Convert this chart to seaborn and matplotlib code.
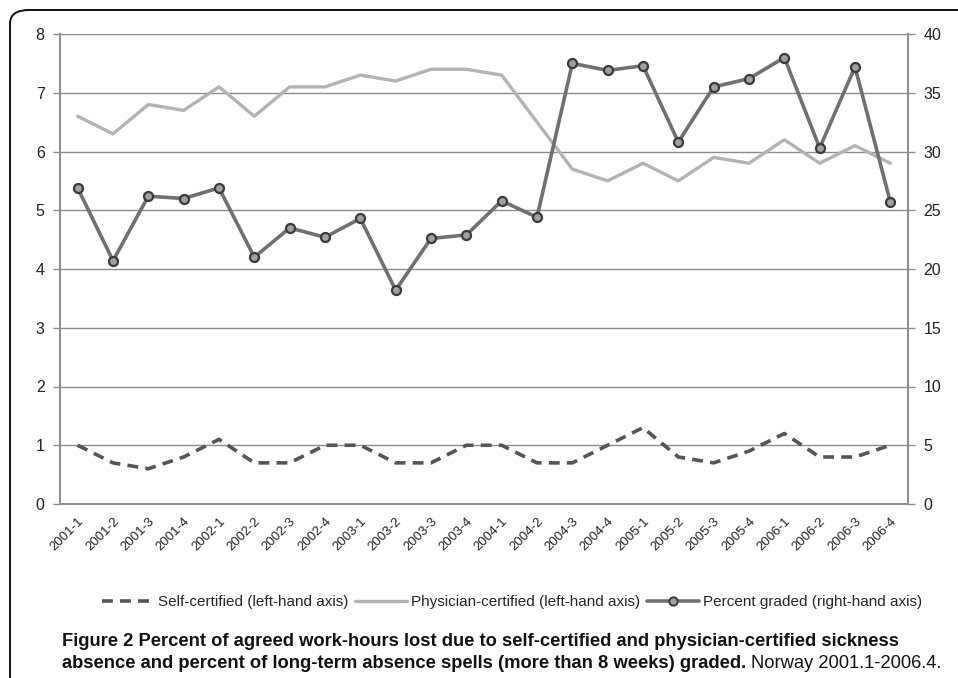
import numpy as np
import pandas as pd
import matplotlib
matplotlib.use("Agg")
import matplotlib.pyplot as plt
import seaborn as sns
from matplotlib.patches import FancyBboxPatch
from matplotlib.lines import Line2D

quarters = [f"{y}-{q}" for y in range(2001, 2007) for q in range(1, 5)]
self_cert = [1.0, 0.7, 0.6, 0.8, 1.1, 0.7, 0.7, 1.0, 1.0, 0.7, 0.7, 1.0,
             1.0, 0.7, 0.7, 1.0, 1.3, 0.8, 0.7, 0.9, 1.2, 0.8, 0.8, 1.0]
physician = [6.6, 6.3, 6.8, 6.7, 7.1, 6.6, 7.1, 7.1, 7.3, 7.2, 7.4, 7.4,
             7.3, 6.5, 5.7, 5.5, 5.8, 5.5, 5.9, 5.8, 6.2, 5.8, 6.1, 5.8]
graded = [26.9, 20.7, 26.2, 26.0, 26.9, 21.0, 23.5, 22.7, 24.3, 18.2, 22.6, 22.9,
          25.8, 24.4, 37.5, 36.9, 37.3, 30.8, 35.5, 36.2, 38.0, 30.3, 37.2, 25.7]

df = pd.DataFrame({'Quarter': quarters, 'Self': self_cert,
                   'Physician': physician, 'Graded': graded})
df['pos'] = np.arange(len(df))

sns.set_style("white")
plt.rcParams['font.family'] = ['Liberation Sans', 'DejaVu Sans']

fig = plt.figure(figsize=(9.58, 6.78), dpi=100)
ax = fig.add_axes([60/958, 1-504/678, 848/958, 470/678])
ax2 = ax.twinx()

grid_c = '#8c8c8c'
c_self = '#555555'
c_phys = '#b3b3b3'
c_grad = '#707070'

sns.lineplot(x='pos', y='Physician', data=df, ax=ax, color=c_phys, linewidth=2.4, zorder=3)
sns.lineplot(x='pos', y='Self', data=df, ax=ax, color=c_self, linewidth=2.6,
             linestyle=(0, (3, 2)), zorder=3)
sns.lineplot(x='pos', y='Graded', data=df, ax=ax2, color=c_grad, linewidth=2.6,
             marker='o', markersize=6.5, markerfacecolor='#a0a0a0',
             markeredgecolor='#3a3a3a', markeredgewidth=1.6, zorder=4)

ax.set_ylim(0, 8)
ax2.set_ylim(0, 40)
ax.set_xlim(-0.5, 23.5)
ax.set_yticks(range(0, 9))
ax2.set_yticks(range(0, 41, 5))
ax.set_xlabel('')
ax.set_ylabel('')
ax2.set_ylabel('')
ax.grid(axis='y', color=grid_c, linewidth=1)
ax.set_axisbelow(True)

ax.set_xticks(df['pos'])
ax.set_xticklabels(quarters, rotation=45, ha='right', va='top',
                   rotation_mode='anchor', fontsize=9.5, color='#222222')
ax.set_xticks(np.arange(-0.5, 24, 1), minor=True)
ax.tick_params(axis='x', which='major', length=0, pad=8)
ax.tick_params(axis='x', which='minor', length=5, color=grid_c, width=1)
ax.tick_params(axis='y', length=5, color=grid_c, width=1, labelsize=11.5, pad=6,
               labelcolor='#222222', left=True)
ax2.tick_params(axis='y', length=5, color=grid_c, width=1, labelsize=11.5, pad=6,
                labelcolor='#222222', right=True)

for a in (ax, ax2):
    a.spines['top'].set_visible(False)
    for s in ('left', 'right', 'bottom'):
        a.spines[s].set_color(grid_c)
        a.spines[s].set_linewidth(1.3)

handles = [
    Line2D([], [], color=c_self, linewidth=2.6, linestyle=(0, (3, 2))),
    Line2D([], [], color=c_phys, linewidth=2.4),
    Line2D([], [], color=c_grad, linewidth=2.6, marker='o', markersize=6,
           markerfacecolor='#a0a0a0', markeredgecolor='#3a3a3a', markeredgewidth=1.4),
]
labels = ['Self-certified (left-hand axis)', 'Physician-certified (left-hand axis)',
          'Percent graded (right-hand axis)']
fig.legend(handles, labels, loc='center', bbox_to_anchor=(512/958, 1-602/678),
           ncol=3, frameon=False, fontsize=11, handlelength=3.4,
           handletextpad=0.3, columnspacing=0.4)

frame = FancyBboxPatch((10/958, -0.2), 1.2, 1-10/678+0.2,
                       boxstyle='round,pad=0,rounding_size=0.02',
                       transform=fig.transFigure, fill=False,
                       edgecolor='#111111', linewidth=1.4, clip_on=False)
fig.patches.append(frame)

cap_font = ['Liberation Sans Narrow', 'Liberation Sans', 'DejaVu Sans']
cap_size = 13.2
fig.text(62/958, 1-641/678, 'Figure 2 Percent of agreed work-hours lost due to self-certified '
         'and physician-certified sickness', fontsize=cap_size, fontweight='bold',
         family=cap_font, va='center', color='#111111')
t = fig.text(62/958, 1-664/678, 'absence and percent of long-term absence spells '
             '(more than 8 weeks) graded.', fontsize=cap_size, fontweight='bold',
             family=cap_font, va='center', color='#111111')
fig.canvas.draw()
bb = t.get_window_extent()
fig.text((bb.x1 + 5)/958, 1-664/678, 'Norway 2001.1-2006.4.', fontsize=cap_size,
         family=cap_font, va='center', color='#111111')

fig.savefig('out.png', dpi=100)
